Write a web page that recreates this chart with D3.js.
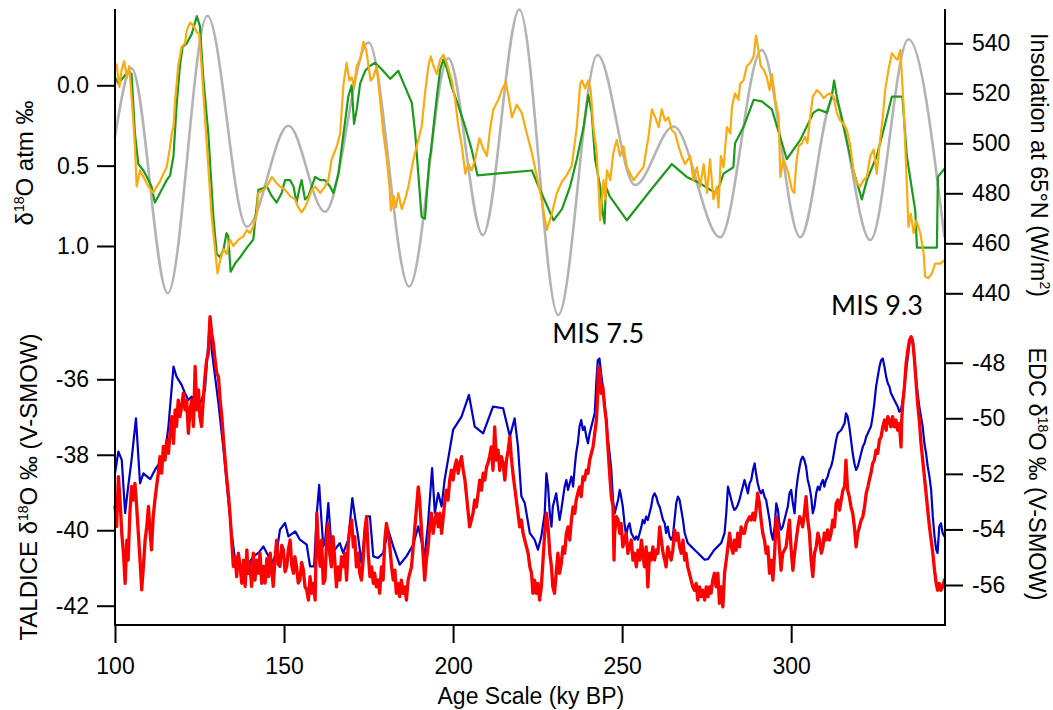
<!DOCTYPE html>
<html>
<head>
<meta charset="utf-8">
<script src="https://cdn.jsdelivr.net/npm/d3@7"></script>
<style>
  html, body { margin: 0; padding: 0; background: #fff; }
  svg { display: block; }
</style>
</head>
<body>
<svg id="chart" width="1053" height="710"></svg>
<script>
// ---- Data: [age (ky BP), value] ----

// Summer insolation at 65°N (W/m²), extrema of the orbital curve
const insolation = [
  [100, 502.5], [104.9, 530], [115.6, 440], [127.3, 551], [139, 466.6], [151.3, 507],
  [162.1, 472.6], [175, 540.3], [187, 442.7], [198.6, 534], [208.8, 463.3], [219.6, 553.5],
  [231.1, 431.3], [242.7, 535.3], [253.8, 483.3], [265.2, 506.7], [279, 462.4], [291.3, 537.3],
  [302.7, 462.4], [312.5, 518], [323.4, 461.3], [334.7, 541.6], [345.3, 462.7]
];

// δ18O of atmospheric O2, low-resolution record (‰)
const atmGreen = [
  [100.0,-0.05],[101.0,-0.01],[102.5,-0.05],[103.9,-0.09],[104.9,-0.07],[105.9,0.30],[106.9,0.49],
  [108.4,0.53],[109.9,0.59],[110.8,0.63],[111.8,0.73],[112.8,0.69],[114.3,0.63],[115.3,0.59],
  [116.3,0.56],[117.3,0.44],[118.2,0.13],[119.2,-0.12],[120.0,-0.24],[121.2,-0.26],[122.7,-0.32],
  [124.2,-0.43],[125.1,-0.37],[126.1,-0.05],[127.6,0.30],[129.1,0.82],[130.1,1.05],[131.1,1.07],
  [132.1,1.02],[133.0,0.92],[133.5,0.94],[134.2,1.16],[135.5,1.11],[137.0,1.07],[139.0,1.01],
  [140.9,0.96],[142.4,0.65],[143.9,0.64],[144.9,0.63],[146.4,0.69],[147.8,0.73],[149.3,0.67],
  [150.3,0.59],[151.8,0.59],[152.8,0.63],[153.7,0.73],[154.7,0.63],[155.2,0.59],[156.2,0.71],
  [157.2,0.69],[158.2,0.63],[159.2,0.57],[160.7,0.59],[162.1,0.59],[163.6,0.63],[164.6,0.67],
  [166.1,0.55],[167.6,0.30],[169.0,0.07],[170.0,0.00],[170.7,0.24],[171.5,0.15],[172.5,-0.01],
  [174.0,-0.09],[175.4,-0.12],[176.9,-0.14],[178.9,-0.10],[181.4,-0.04],[183.8,-0.09],[185.8,0.01],
  [187.8,0.11],[188.8,0.30],[189.7,0.55],[190.7,0.82],[191.7,0.83],[192.4,0.63],[193.0,0.46],
  [193.4,0.42],[194.2,0.26],[195.2,0.07],[196.2,-0.10],[197.1,-0.16],[198.1,-0.11],[199.6,0.01],
  [201.6,0.13],[203.6,0.26],[205.5,0.40],[207.2,0.56],[223.3,0.53],[225.7,0.65],[229.7,0.84],
  [232.2,0.77],[234.6,0.63],[236.6,0.46],[238.6,0.26],[240.0,0.06],[241.0,0.17],[242.0,0.46],
  [243.5,0.63],[244.3,0.80],[244.8,0.86],[245.2,0.63],[246.3,0.69],[251.4,0.84],[259.3,0.63],
  [264.7,0.49],[269.1,0.57],[273.1,0.61],[276.0,0.65],[278.0,0.67],[280.0,0.55],[282.9,0.51],
  [283.4,0.36],[285.9,0.26],[288.9,0.09],[291.3,0.10],[294.3,0.15],[298.7,0.46],[302.7,0.34],
  [306.6,0.17],[308.1,0.15],[310.6,0.17],[312.0,0.07],[312.7,-0.03],[313.5,0.07],[315.5,0.26],
  [318.4,0.53],[320.9,0.71],[322.4,0.59],[325.3,0.44],[327.3,0.28],[329.8,0.07],[332.9,0.07],
  [334.2,0.44],[336.7,0.78],[337.2,1.01],[343.1,1.01],[343.4,0.57],[345.3,0.52]
];

// δ18O of atmospheric O2, high-resolution record (‰)
const atmOrange = [
  [100.0,-0.12],[100.5,-0.13],[101.3,0.01],[102.0,-0.10],[102.7,-0.15],[103.5,-0.05],[104.2,-0.12],
  [104.9,0.07],[105.9,0.38],[106.4,0.63],[107.4,0.53],[108.9,0.59],[109.9,0.63],[111.3,0.67],
  [112.3,0.63],[113.3,0.60],[114.3,0.55],[115.3,0.51],[116.3,0.38],[116.8,0.30],[117.3,0.26],
  [117.8,0.09],[118.7,-0.12],[119.7,-0.24],[120.7,-0.26],[121.2,-0.34],[122.2,-0.39],[123.2,-0.37],
  [124.2,-0.33],[124.9,-0.32],[125.6,-0.12],[126.6,0.20],[127.6,0.51],[128.6,0.82],[129.6,1.02],
  [130.3,1.17],[131.1,1.09],[132.1,1.02],[133.0,1.05],[134.0,0.96],[135.0,1.00],[136.5,0.96],
  [138.0,0.94],[139.0,0.90],[139.9,0.92],[140.9,0.88],[141.9,0.80],[142.4,0.67],[143.9,0.65],
  [144.9,0.63],[146.4,0.57],[147.8,0.61],[148.8,0.63],[150.3,0.65],[151.8,0.69],[153.3,0.71],
  [154.2,0.76],[155.2,0.79],[156.2,0.76],[157.2,0.71],[158.2,0.65],[159.2,0.63],[160.7,0.67],
  [162.1,0.63],[163.1,0.59],[164.1,0.46],[165.6,0.38],[166.6,0.30],[167.6,-0.01],[168.5,-0.14],
  [169.3,-0.03],[170.0,-0.05],[170.7,0.01],[171.5,-0.12],[172.5,-0.16],[173.5,-0.27],[174.3,-0.22],
  [175.0,-0.12],[175.6,-0.03],[176.4,-0.05],[177.4,-0.12],[178.4,0.09],[179.4,0.30],[180.4,0.46],
  [181.2,0.63],[181.6,0.78],[182.4,0.69],[183.1,0.76],[183.8,0.67],[184.8,0.77],[185.8,0.71],
  [186.8,0.63],[187.3,0.57],[188.3,0.46],[189.7,0.34],[190.7,0.26],[191.7,0.05],[192.7,-0.12],
  [193.4,-0.18],[194.2,-0.12],[195.2,-0.07],[196.2,-0.16],[197.1,-0.19],[198.1,-0.14],[199.6,-0.03],
  [200.6,0.09],[201.6,0.26],[202.6,0.38],[203.6,0.55],[204.5,0.49],[205.5,0.53],[206.5,0.46],
  [207.8,0.33],[209.0,0.40],[210.0,0.44],[210.9,0.28],[211.9,0.15],[213.4,0.09],[214.4,0.03],
  [215.6,-0.02],[216.4,0.07],[217.4,0.20],[218.8,0.12],[220.3,0.17],[221.8,0.30],[223.3,0.42],
  [224.8,0.57],[226.2,0.71],[227.7,0.90],[229.2,0.80],[230.7,0.67],[232.2,0.60],[233.6,0.56],
  [235.1,0.50],[236.6,0.26],[237.6,-0.01],[238.1,-0.03],[239.1,0.02],[240.0,-0.03],[240.7,0.03],
  [241.5,0.26],[242.5,0.42],[243.0,0.63],[243.5,0.84],[244.0,0.71],[244.5,0.59],[245.0,0.71],
  [245.5,0.53],[246.5,0.59],[247.4,0.42],[248.4,0.34],[249.4,0.44],[250.4,0.38],[251.4,0.51],
  [252.4,0.55],[253.4,0.59],[254.8,0.55],[256.3,0.51],[257.8,0.32],[258.8,0.15],[259.8,0.20],
  [260.8,0.26],[261.7,0.15],[262.7,0.22],[263.7,0.20],[264.7,0.28],[265.7,0.30],[266.7,0.38],
  [267.6,0.44],[268.6,0.49],[270.1,0.44],[271.1,0.59],[272.1,0.51],[273.1,0.63],[274.1,0.49],
  [275.1,0.67],[276.0,0.46],[277.0,0.71],[278.0,0.63],[278.5,0.76],[279.2,0.44],[280.0,0.51],
  [281.0,0.26],[282.0,0.30],[282.5,0.13],[283.4,0.05],[284.4,0.09],[284.9,-0.01],[285.9,-0.03],
  [286.9,-0.12],[287.9,-0.14],[288.9,-0.18],[289.6,-0.31],[290.3,-0.22],[291.0,-0.12],[291.8,-0.10],
  [292.8,-0.05],[293.6,0.03],[294.3,-0.07],[295.3,0.09],[296.3,0.20],[296.8,0.57],[297.7,0.46],
  [299.2,0.55],[300.2,0.65],[300.9,0.67],[301.5,0.49],[302.2,0.38],[303.2,0.36],[304.1,0.32],
  [304.8,0.36],[305.6,0.20],[306.4,0.07],[307.6,0.03],[308.6,0.05],[309.6,0.08],[310.6,0.06],
  [311.5,0.05],[312.5,0.07],[313.5,0.17],[314.5,0.22],[315.5,0.24],[316.5,0.28],[317.5,0.38],
  [318.4,0.53],[319.4,0.61],[320.4,0.63],[321.4,0.59],[322.4,0.57],[323.4,0.44],[324.4,0.40],
  [325.3,0.55],[326.3,0.34],[327.1,0.20],[327.8,0.03],[328.8,-0.10],[329.8,-0.20],[330.8,-0.17],
  [331.5,-0.16],[332.3,-0.22],[333.2,0.11],[334.0,0.51],[334.7,0.88],[335.4,0.80],[336.2,0.92],
  [337.0,0.84],[338.2,0.92],[339.2,1.05],[339.6,1.19],[340.6,1.20],[341.6,1.17],[342.6,1.11],
  [344.1,1.11],[345.3,1.09]
];

// EDC δ18O (‰ V-SMOW)
const edc = [
  [100.0,-51.98],[101.0,-51.20],[102.0,-51.50],[103.0,-53.41],[103.9,-52.46],[104.9,-51.50],
  [106.2,-50.00],[107.4,-52.34],[108.4,-51.98],[110.4,-52.19],[111.8,-51.86],[113.8,-51.50],
  [114.8,-51.26],[115.8,-50.30],[117.3,-48.14],[118.2,-48.50],[119.7,-48.80],[120.7,-49.10],
  [121.7,-49.34],[122.7,-49.22],[124.7,-49.58],[125.6,-49.34],[126.6,-48.98],[128.1,-46.47],
  [128.6,-47.54],[130.6,-49.46],[132.1,-51.14],[133.5,-52.93],[134.5,-54.13],[135.5,-55.09],
  [136.5,-55.33],[138.5,-55.45],[140.9,-54.97],[142.4,-54.85],[143.9,-54.61],[144.9,-54.85],
  [146.4,-55.21],[147.8,-54.85],[148.8,-54.01],[150.3,-53.77],[151.3,-54.25],[153.3,-54.07],
  [154.7,-54.37],[156.7,-54.55],[157.7,-55.33],[158.9,-55.33],[159.7,-53.41],[160.4,-52.40],
  [160.8,-53.20],[161.6,-54.60],
  [162.1,-54.49],[163.1,-53.05],[164.0,-54.61],[165.0,-54.73],[166.5,-54.49],[167.5,-54.85],
  [169.0,-54.37],[170.2,-52.87],[171.1,-53.65],[171.9,-54.25],[172.9,-55.21],[174.4,-53.53],
  [175.4,-53.53],[176.4,-54.97],[177.8,-55.03],[179.3,-54.85],[180.8,-54.01],[182.3,-54.61],
  [184.2,-55.27],[186.2,-54.97],[188.2,-54.55],[189.7,-53.89],[191.6,-54.97],[192.6,-53.77],
  [193.8,-51.79],[194.6,-53.41],[195.6,-52.69],[196.6,-53.17],[197.5,-52.21],[200.0,-50.42],
  [202.5,-49.94],[204.7,-49.16],[206.4,-50.30],[208.9,-50.54],[211.8,-49.58],[214.8,-49.64],
  [216.8,-50.66],[218.2,-50.00],[219.2,-51.02],[220.2,-52.81],[221.2,-53.05],[222.7,-54.13],
  [224.1,-54.37],[225.1,-54.73],[226.1,-54.25],[227.1,-53.42],[227.6,-51.98],[228.1,-52.46],
  [228.6,-53.42],[229.1,-53.90],[229.5,-53.18],[230.0,-52.94],[230.5,-52.70],[231.0,-53.18],
  [231.5,-53.66],[232.0,-53.30],[233.0,-52.46],[233.5,-52.22],[234.0,-52.58],[234.5,-52.34],
  [235.0,-52.10],[235.5,-52.46],[236.0,-51.74],[236.4,-51.26],[236.9,-50.90],[237.4,-50.30],
  [237.9,-50.06],[238.4,-50.42],[238.9,-50.30],[239.4,-50.66],[239.9,-50.90],[240.4,-50.54],
  [240.9,-50.30],[241.4,-50.06],[241.9,-49.82],[242.4,-48.63],[242.8,-47.91],[243.3,-47.85],
  [243.8,-48.39],[244.3,-48.87],[244.8,-49.46],[245.3,-50.06],[245.8,-50.78],[246.3,-51.26],
  [246.8,-51.86],[247.3,-52.94],[247.8,-53.42],[248.3,-53.18],[248.8,-52.94],[249.3,-52.58],
  [249.7,-52.82],[250.2,-53.18],[250.7,-53.78],[251.2,-54.25],[251.7,-53.90],[252.2,-53.78],
  [252.7,-54.13],[253.2,-54.25],[253.7,-54.37],[254.2,-54.25],[254.7,-54.37],[255.2,-54.13],
  [255.7,-53.90],[256.1,-53.66],[256.6,-53.78],[257.1,-53.54],[257.6,-53.66],[258.1,-53.42],
  [258.6,-53.18],[259.1,-52.82],[259.6,-52.70],[260.1,-52.82],[260.6,-53.06],[261.1,-53.18],
  [261.6,-53.42],[262.1,-53.66],[262.6,-53.78],[263.0,-54.13],[263.5,-53.90],[264.0,-54.25],
  [264.5,-54.37],[265.0,-54.25],[265.5,-53.66],[266.0,-53.06],[266.5,-52.82],[267.0,-52.94],
  [267.5,-53.30],[268.0,-53.66],[268.5,-54.13],[269.4,-54.49],[270.4,-54.61],[271.4,-54.73],
  [272.4,-54.85],[273.4,-54.97],[274.4,-55.09],[275.4,-55.07],[276.3,-54.91],[277.3,-54.73],
  [278.3,-54.61],[279.3,-54.49],[280.3,-54.13],[280.8,-53.42],[281.3,-52.46],[281.8,-52.70],
  [282.3,-52.94],[282.8,-53.18],[283.2,-53.30],[283.7,-53.24],[284.2,-53.12],[284.7,-52.94],
  [285.2,-52.70],[286.2,-52.22],
  [286.7,-52.46],[287.2,-52.70],[287.7,-52.34],[288.2,-52.22],[288.7,-51.86],[289.2,-51.62],
  [289.6,-51.98],[290.1,-52.34],[290.6,-52.58],[291.1,-52.70],[291.6,-52.58],[292.1,-52.82],
  [292.6,-52.94],[293.1,-53.30],[293.6,-53.66],[294.1,-54.13],[294.6,-54.37],[295.1,-53.90],
  [295.6,-53.06],[296.1,-53.30],[296.5,-53.78],[297.0,-54.01],[297.5,-53.90],[298.0,-53.66],
  [298.5,-53.42],[299.0,-53.18],[299.5,-52.70],[300.0,-52.58],[300.5,-53.06],[301.0,-53.42],
  [301.5,-52.58],[302.0,-52.10],[302.5,-51.74],[302.9,-51.50],[303.4,-51.38],[303.9,-51.50],
  [304.4,-51.74],[304.9,-52.22],[305.4,-52.46],[305.9,-52.82],[306.4,-53.42],[306.9,-53.18],
  [307.4,-52.70],[307.9,-52.46],[308.4,-52.58],[308.9,-52.34],[309.4,-52.22],[309.8,-52.46],
  [310.3,-52.22],[310.8,-52.10],[311.3,-51.86],[311.8,-51.74],[312.3,-51.50],[312.8,-51.14],
  [313.3,-50.78],[313.8,-50.54],[314.8,-50.42],[315.8,-50.18],[316.2,-49.82],[316.7,-49.94],
  [317.2,-50.30],[317.7,-50.78],[318.2,-51.26],[318.7,-51.62],[319.2,-51.86],[319.7,-51.74],
  [320.2,-51.50],[320.7,-51.26],[321.2,-51.02],[321.7,-50.90],[322.2,-50.66],[322.7,-50.54],
  [323.1,-50.42],[323.6,-50.30],[324.1,-49.94],[324.6,-49.46],[325.1,-48.87],[325.6,-48.51],
  [326.1,-48.15],[326.6,-47.91],[327.1,-47.85],[327.6,-48.15],[328.1,-48.51],[328.6,-48.75],
  [329.1,-48.87],[329.5,-49.10],[330.0,-49.22],[330.5,-49.34],[331.0,-49.46],[331.5,-49.58],
  [332.0,-49.76],[332.5,-49.70],[333.0,-49.34],[333.5,-48.87],[334.0,-48.27],[334.5,-47.79],
  [335.0,-47.31],[335.5,-47.07],[336.0,-47.19],[336.4,-47.79],[336.9,-48.51],[337.4,-49.10],
  [337.9,-49.58],[338.4,-49.94],[338.9,-50.30],[339.4,-50.90],[339.9,-51.26],[340.4,-51.74],
  [340.9,-52.10],[341.4,-52.58],[341.9,-53.54],[342.4,-54.25],[342.9,-54.73],[343.3,-54.85],
  [343.8,-53.90],[344.3,-53.78],[344.8,-54.13],[345.3,-54.25]
];

// TALDICE δ18O (‰ V-SMOW)
const taldice = [
  [100.0,-39.37],[100.5,-39.90],[101.0,-38.58],[101.5,-39.20],[102.0,-40.08],[102.5,-40.61],
  [103.0,-41.41],[103.5,-40.26],[103.9,-40.79],[104.4,-39.55],[104.9,-38.84],[105.4,-39.20],
  [105.9,-38.76],[106.4,-39.37],[106.9,-40.08],[107.4,-40.79],[107.9,-41.58],[108.4,-40.96],
  [108.9,-40.26],[109.4,-39.90],[109.9,-39.37],[110.4,-40.08],[110.8,-40.52],[111.3,-39.64],
  [111.8,-39.20],[112.3,-38.84],[112.8,-38.49],[113.3,-38.05],[113.8,-38.49],[114.3,-37.78],
  [114.8,-38.14],[115.3,-37.61],[115.8,-37.96],[116.3,-37.43],[116.8,-36.99],[117.3,-37.70],
  [117.8,-36.81],[118.2,-37.25],[118.7,-36.55],[119.2,-36.99],[119.7,-36.72],[120.2,-36.37],
  [120.7,-36.81],[121.2,-36.55],[121.7,-37.43],[122.2,-36.81],[122.7,-36.55],[123.2,-37.25],
  [123.7,-35.66],[124.2,-36.81],[124.7,-36.28],[125.1,-36.99],[125.6,-37.25],[126.1,-36.55],
  [126.6,-35.93],[127.1,-35.49],[127.6,-35.31],[128.1,-34.34],[128.6,-34.78],[129.1,-35.05],
  [129.6,-35.49],[130.1,-35.84],[130.6,-35.93],[131.1,-36.55],[131.6,-36.99],[132.1,-37.61],
  [132.5,-38.05],[133.0,-38.58],[133.5,-39.02],[134.0,-39.55],[134.5,-40.26],[135.0,-40.96],
  [135.5,-40.70],[136.0,-41.23],[136.5,-40.61],[137.0,-40.96],[137.5,-41.41],[138.0,-40.79],
  [138.5,-41.49],[139.0,-40.52],[139.4,-41.14],[139.9,-40.88],[140.4,-41.49],[140.9,-40.61],
  [141.4,-41.32],[141.9,-40.79],[142.4,-41.14],[142.9,-40.61],[143.4,-41.41],[143.9,-40.96],
  [144.4,-41.40],[144.9,-40.75],[145.4,-41.23],[145.9,-40.61],[146.4,-41.10],[146.8,-41.49],
  [147.3,-40.80],[147.8,-40.26],[148.3,-40.90],[148.8,-40.96],[149.3,-40.40],[149.8,-40.52],
  [150.3,-41.10],[150.8,-40.96],[151.3,-40.50],[151.8,-40.26],[152.3,-40.95],[152.8,-41.14],
  [153.2,-40.70],[153.7,-40.96],[154.2,-41.40],[154.7,-41.32],[155.2,-40.85],[155.7,-41.05],
  [156.2,-41.50],[156.7,-41.58],[157.2,-41.85],[157.7,-41.23],[158.2,-41.67],[158.7,-41.41],
  [159.2,-41.85],[159.7,-39.55],[160.2,-40.52],[160.7,-40.96],[161.1,-40.26],[161.6,-41.41],
  [162.1,-41.32],[162.6,-40.26],[163.1,-39.82],[163.5,-40.61],[164.0,-40.97],[164.5,-40.17],
  [165.0,-40.79],[165.5,-41.50],[166.0,-40.97],[166.5,-41.32],[167.0,-40.70],[167.5,-40.97],
  [168.0,-40.61],[168.5,-41.32],[169.0,-40.35],[169.5,-39.91],[170.0,-39.73],[170.5,-40.44],
  [170.9,-40.17],[171.4,-40.97],[171.9,-40.61],[172.4,-41.14],[172.9,-41.32],[173.4,-40.79],
  [173.9,-39.99],[174.4,-39.64],[174.9,-40.61],[175.4,-41.23],[175.9,-40.97],[176.4,-41.41],
  [176.8,-41.14],[177.3,-41.50],[177.8,-41.32],[178.3,-41.67],[178.8,-40.97],[179.3,-41.32],
  [179.8,-40.26],[180.3,-39.82],[180.8,-40.08],[181.3,-40.44],[181.8,-40.97],[182.3,-41.32],
  [182.8,-41.06],[183.2,-41.67],[183.7,-41.41],[184.2,-41.76],[184.7,-41.32],[185.2,-41.67],
  [185.7,-41.50],[186.2,-41.85],[186.7,-41.32],[187.2,-41.14],[187.7,-40.97],[188.2,-40.44],
  [188.7,-39.91],[189.2,-39.38],[189.7,-38.85],[190.1,-39.20],[190.6,-39.91],[191.1,-40.61],
  [191.6,-41.32],[192.1,-40.79],[192.6,-40.44],[193.1,-39.91],[193.6,-39.55],[194.1,-40.08],
  [194.6,-39.73],[195.1,-39.55],[195.6,-39.91],[196.1,-39.55],[196.6,-40.08],[197.0,-39.73],
  [197.5,-39.29],[198.0,-38.94],[198.5,-39.20],[199.0,-38.67],[199.5,-38.41],[200.0,-38.67],
  [200.5,-38.32],[201.0,-38.14],[201.5,-38.49],[202.0,-38.23],[202.5,-38.05],[203.0,-38.41],
  [203.5,-38.67],[203.9,-39.02],[204.4,-39.47],[204.9,-39.91],[205.4,-39.73],[205.9,-39.55],
  [206.4,-39.20],[206.9,-39.38],[207.4,-39.02],[207.9,-38.67],[208.4,-38.94],[208.9,-38.49],
  [209.4,-38.67],[209.9,-38.32],[210.3,-38.23],[210.8,-38.05],[211.3,-37.79],[211.8,-38.41],
  [212.3,-37.26],[212.8,-38.14],[213.3,-37.88],[213.8,-38.41],[214.3,-38.05],[214.8,-38.23],
  [215.3,-38.67],[215.8,-38.14],[216.3,-37.88],[216.8,-37.52],[217.2,-38.05],[217.7,-38.49],
  [218.2,-38.85],[218.7,-39.20],[219.2,-39.55],[219.7,-39.91],[220.2,-39.73],[220.7,-40.08],
  [221.2,-40.26],[221.7,-40.44],[222.2,-40.61],[222.7,-40.97],[223.2,-41.14],[223.6,-41.67],
  [224.1,-41.32],[224.6,-41.67],[225.1,-41.41],[225.6,-41.85],[226.1,-41.50],[226.6,-40.79],
  [227.1,-40.08],[227.6,-39.55],[228.1,-39.91],[228.6,-40.61],[229.1,-40.97],[229.5,-41.50],
  [230.0,-41.67],[230.5,-41.14],[231.0,-40.61],[231.5,-41.14],[232.0,-40.88],[232.5,-40.44],
  [233.0,-40.61],[233.5,-40.08],[234.0,-39.91],[234.5,-40.26],[235.0,-39.73],[235.5,-39.38],
  [236.0,-39.55],[236.4,-39.20],[236.9,-39.02],[237.4,-38.85],[237.9,-39.11],[238.4,-38.58],
  [238.9,-38.67],[239.4,-38.41],[239.9,-38.49],[240.4,-38.14],[240.9,-37.96],[241.4,-37.79],
  [241.9,-37.43],[242.4,-37.08],[242.8,-36.37],[243.0,-35.67],[243.5,-35.84],[243.8,-36.37],
  [244.3,-36.20],[244.8,-36.73],[245.3,-37.08],[245.8,-37.79],[246.3,-38.49],[246.8,-39.11],
  [247.3,-39.38],[247.6,-40.79],[247.8,-40.08],[248.3,-39.64],[248.8,-39.73],[249.3,-40.08],
  [249.7,-39.82],[250.2,-40.44],[250.7,-40.26],[251.2,-40.08],[251.7,-40.61],[252.2,-40.44],
  [252.7,-40.26],[253.2,-40.79],[253.7,-40.61],[254.2,-40.97],[254.7,-40.53],[255.2,-40.79],
  [255.7,-40.26],[256.1,-40.61],[256.6,-40.97],[257.1,-40.44],[257.6,-41.50],[258.1,-40.61],
  [258.6,-40.79],[259.1,-40.44],[259.6,-40.79],[260.1,-40.53],[260.6,-40.61],[261.1,-39.91],
  [261.6,-40.26],[262.1,-40.61],[262.6,-40.79],[263.0,-40.97],[263.5,-40.44],[264.0,-40.61],
  [264.5,-40.79],[265.0,-40.53],[265.5,-39.99],[266.0,-40.26],[266.5,-40.08],[267.0,-40.44],
  [267.5,-40.61],[268.0,-40.26],[268.5,-40.79],[268.9,-40.61],[269.4,-40.97],[269.9,-41.14],
  [270.4,-41.32],[270.9,-41.50],[271.4,-41.59],[271.9,-41.41],[272.4,-41.85],[272.9,-41.50],
  [273.4,-41.76],[273.9,-41.59],[274.4,-41.85],[274.9,-41.50],[275.4,-41.76],[275.9,-41.50],
  [276.3,-41.67],[276.8,-41.32],[277.3,-41.14],[277.8,-41.50],[278.3,-41.14],[278.8,-41.94],
  [279.3,-41.50],[279.8,-42.03],[280.3,-41.14],[280.8,-40.79],[281.3,-40.44],[281.8,-40.08],
  [282.3,-40.44],[282.8,-40.61],[283.2,-40.26],[283.7,-40.53],[284.2,-40.08],[284.7,-40.44],
  [285.2,-39.91],[285.7,-40.08],
  [286.2,-40.08],[286.7,-39.82],[287.2,-39.73],[287.7,-39.64],[288.2,-39.73],[288.7,-39.55],
  [289.2,-39.73],[289.6,-39.47],[290.1,-39.02],[290.6,-39.29],[291.1,-39.73],[291.6,-40.08],
  [292.1,-40.26],[292.6,-40.61],[293.1,-40.44],[293.6,-41.14],[294.1,-40.79],[294.6,-41.32],
  [295.1,-40.61],[295.6,-39.64],[296.1,-39.91],[296.5,-40.44],[297.0,-41.06],[297.5,-40.61],
  [298.0,-40.53],[298.5,-40.44],[299.0,-40.08],[299.5,-39.73],[300.0,-40.53],[300.5,-41.06],
  [301.0,-40.61],[301.5,-40.26],[302.0,-39.91],[302.5,-39.64],[302.9,-39.73],[303.4,-39.91],
  [303.9,-39.55],[304.4,-39.11],[304.9,-39.73],[305.4,-40.08],[305.9,-40.79],[306.4,-41.23],
  [306.9,-40.61],[307.4,-40.44],[307.9,-40.08],[308.4,-40.26],[308.9,-40.61],[309.4,-40.44],
  [309.8,-40.08],[310.3,-40.26],[310.8,-39.99],[311.3,-40.26],[311.8,-40.08],[312.3,-39.73],
  [312.8,-39.91],[313.3,-39.29],[313.8,-39.20],[314.3,-39.47],[314.8,-39.20],[315.3,-38.94],
  [315.8,-38.85],[316.2,-38.14],[316.7,-38.94],[317.2,-39.11],[317.7,-39.38],[318.2,-39.55],
  [318.7,-39.91],[319.2,-40.44],[319.7,-40.08],[320.2,-39.91],[320.7,-39.73],[321.2,-39.64],
  [321.7,-39.38],[322.2,-39.02],[322.7,-38.85],[323.1,-38.67],[323.6,-38.49],[324.1,-38.23],
  [324.6,-38.14],[325.1,-37.88],[325.6,-37.96],[326.1,-37.61],[326.6,-37.52],[327.1,-37.26],
  [327.6,-37.08],[328.1,-37.35],[328.6,-36.99],[329.1,-37.08],[329.5,-37.26],[330.0,-36.99],
  [330.5,-37.26],[331.0,-37.08],[331.5,-37.35],[332.0,-37.17],[332.5,-37.79],[332.7,-37.08],
  [333.0,-36.64],[333.5,-36.20],[334.0,-35.58],[334.5,-35.23],[335.0,-34.96],[335.5,-34.87],
  [336.0,-35.05],[336.4,-35.40],[336.9,-36.02],[337.4,-36.64],[337.9,-37.08],[338.4,-37.70],
  [338.9,-38.14],[339.4,-38.58],[339.9,-39.02],[340.4,-39.47],[340.9,-39.91],[341.4,-40.26],
  [341.9,-40.61],[342.4,-41.06],[342.9,-41.41],[343.3,-41.59],[343.8,-41.41],[344.3,-41.59],
  [344.8,-41.50],[345.3,-41.32]
];

// Tick values
const ageTicks = [100, 150, 200, 250, 300];
const atmTicks = [0, 0.5, 1.0];
const insTicks = [440, 460, 480, 500, 520, 540];
const taldiceTicks = [-42, -40, -38, -36];
const edcTicks = [-56, -54, -52, -50, -48];

// Stage annotations: [label, age at centre, TALDICE value at baseline]
const stageLabels = [["MIS 7.5", 242.9, -35.03], ["MIS 9.3", 325.4, -34.30]];

// ---- Drawing ----
const svg = d3.select("#chart");
const axisFont = '"Liberation Sans", Arial, sans-serif';

const x = d3.scaleLinear().domain([100, 345.5]).range([115, 945]);
const yAtm = d3.scaleLinear().domain([0, 1]).range([85.3, 246]);
const yIns = d3.scaleLinear().domain([440, 540]).range([293.3, 43.3]);
const yTal = d3.scaleLinear().domain([-36, -42]).range([379.3, 605.7]);
const yEdc = d3.scaleLinear().domain([-48, -56]).range([362.7, 585]);

const plot = svg.append("g").attr("fill", "none").attr("stroke-linejoin", "round").attr("stroke-linecap", "round");

function drawSeries(data, yScale, color, width, curve) {
  const line = d3.line().x(d => x(d[0])).y(d => yScale(d[1]));
  if (curve) line.curve(curve);
  plot.append("path").datum(data).attr("d", line)
    .attr("stroke", color).attr("stroke-width", width);
}

// upper panel
drawSeries(insolation, yIns, "#b3b3b3", 2.6, d3.curveMonotoneX);
drawSeries(atmGreen, yAtm, "#1c9a1c", 2.2);
drawSeries(atmOrange, yAtm, "#fbaa12", 2.2);
// lower panel
drawSeries(edc, yEdc, "#0000c8", 2.2);
drawSeries(taldice, yTal, "#ff0000", 3.3);

// axes
function styleAxis(g) {
  g.select(".domain").remove();
  g.selectAll(".tick line").attr("stroke", "#000").attr("stroke-width", 2);
  g.selectAll(".tick text").attr("font-family", axisFont).attr("font-size", 23).attr("fill", "#000");
}
const fmt = d => String(d);

svg.append("g").attr("transform", "translate(115,0)")
  .call(d3.axisLeft(yAtm).tickValues(atmTicks).tickFormat(d3.format(".1f")).tickSize(18).tickPadding(8))
  .call(styleAxis);
svg.append("g").attr("transform", "translate(115,0)")
  .call(d3.axisLeft(yTal).tickValues(taldiceTicks).tickFormat(fmt).tickSize(18).tickPadding(8))
  .call(styleAxis);
svg.append("g").attr("transform", "translate(945,0)")
  .call(d3.axisRight(yIns).tickValues(insTicks).tickFormat(fmt).tickSize(18).tickPadding(9))
  .call(styleAxis);
svg.append("g").attr("transform", "translate(945,0)")
  .call(d3.axisRight(yEdc).tickValues(edcTicks).tickFormat(fmt).tickSize(18).tickPadding(9))
  .call(styleAxis);
svg.append("g").attr("transform", "translate(0,625)")
  .call(d3.axisBottom(x).tickValues(ageTicks).tickFormat(fmt).tickSize(18).tickPadding(15))
  .call(styleAxis);

// axis lines spanning both panels
const frame = svg.append("g").attr("stroke", "#000").attr("stroke-width", 2);
frame.append("line").attr("x1", 115).attr("x2", 115).attr("y1", 9).attr("y2", 626);
frame.append("line").attr("x1", 945).attr("x2", 945).attr("y1", 9).attr("y2", 626);
frame.append("line").attr("x1", 114).attr("x2", 946).attr("y1", 625).attr("y2", 625);

// axis titles
function title(tx, ty, rot, size, parts) {
  const t = svg.append("text")
    .attr("transform", `translate(${tx},${ty}) rotate(${rot})`)
    .attr("text-anchor", "middle")
    .attr("font-family", axisFont).attr("font-size", size).attr("fill", "#000");
  parts.forEach(p => {
    if (p.sup) {
      t.append("tspan").attr("font-size", 14).attr("dy", -9).text(p.sup);
      t.append("tspan").attr("dy", 9).text(p.after);
    } else {
      t.append("tspan").text(p.text);
    }
  });
}
title(33, 163, -90, 24, [{text: "δ"}, {sup: "18", after: "O atm ‰"}]);
title(37, 487, -90, 24, [{text: "TALDICE δ"}, {sup: "18", after: "O ‰ (V-SMOW)"}]);
title(1031, 165, 90, 23.5, [{text: "Insolation at 65°N (W/m"}, {sup: "2", after: ")"}]);
title(1029, 474, 90, 23.5, [{text: "EDC δ"}, {sup: "18", after: "O ‰ (V-SMOW)"}]);

svg.append("text")
  .attr("x", x(223)).attr("y", 704)
  .attr("text-anchor", "middle")
  .attr("font-family", axisFont).attr("font-size", 23).attr("fill", "#000")
  .text("Age Scale (ky BP)");

// marine isotope stage labels
svg.selectAll("text.mis").data(stageLabels).enter().append("text")
  .attr("class", "mis")
  .attr("x", d => x(d[1])).attr("y", d => yTal(d[2]))
  .attr("text-anchor", "middle")
  .attr("font-family", "Lato, 'Open Sans', sans-serif").attr("font-size", 27).attr("fill", "#000")
  .text(d => d[0]);
</script>
</body>
</html>
